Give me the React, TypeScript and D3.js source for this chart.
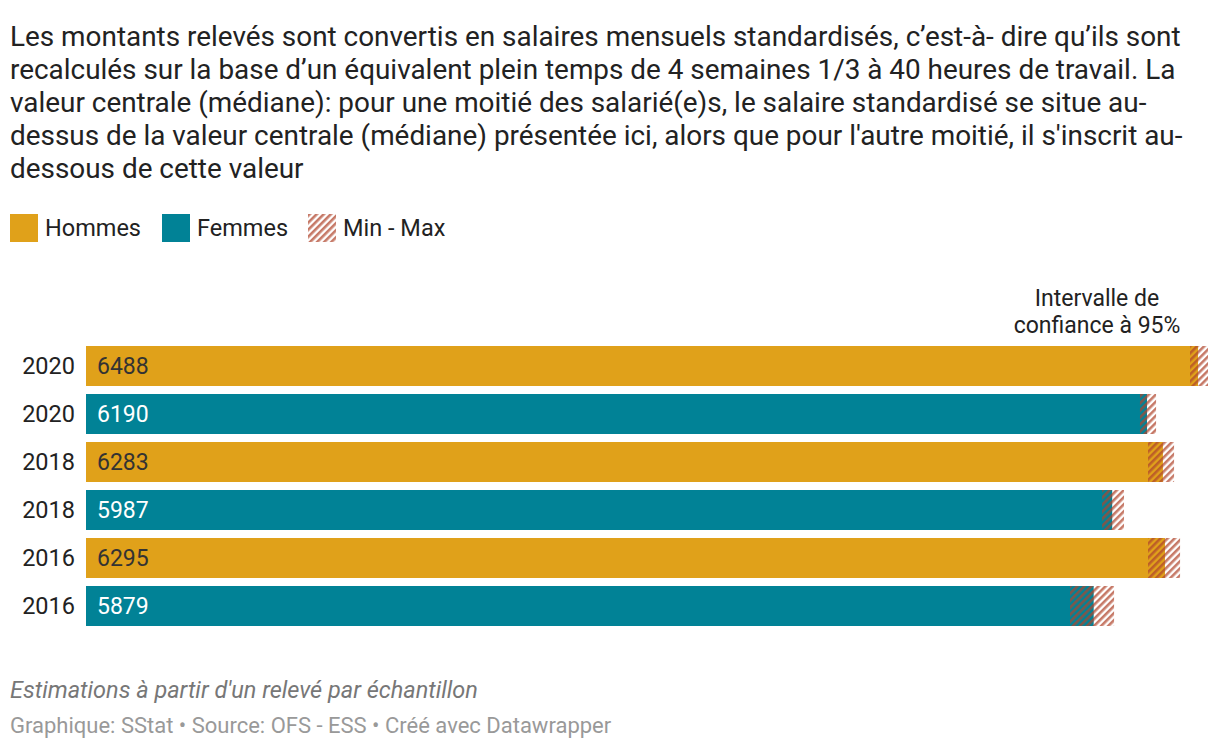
import React from "react";
import * as d3 from "d3";

const years = ["2020", "2020", "2018", "2018", "2016", "2016"];
const genders = ["Hommes", "Femmes", "Hommes", "Femmes", "Hommes", "Femmes"];
const medians = [6488, 6190, 6283, 5987, 6295, 5879];
const ciLow = [6441, 6149, 6196, 5928, 6196, 5741];
const ciHigh = [6546, 6243, 6348, 6056, 6383, 5998];

const titleLines = [
  "Les montants relevés sont convertis en salaires mensuels standardisés, c’est-à- dire qu’ils sont",
  "recalculés sur la base d’un équivalent plein temps de 4 semaines 1/3 à 40 heures de travail. La",
  "valeur centrale (médiane): pour une moitié des salarié(e)s, le salaire standardisé se situe au-",
  "dessus de la valeur centrale (médiane) présentée ici, alors que pour l'autre moitié, il s'inscrit au-",
  "dessous de cette valeur",
];

const legendItems = ["Hommes", "Femmes", "Min - Max"];
const colors: Record<string, string> = { Hommes: "#e0a11a", Femmes: "#018296" };

export default function App() {
  const W = 1220;
  const H = 750;
  const x = d3.scaleLinear().domain([0, d3.max(ciHigh) as number]).range([86, 1208]);
  const y = d3
    .scaleBand<number>()
    .domain(d3.range(medians.length))
    .range([346, 346 + 48 * medians.length - 8])
    .paddingInner(8 / 48)
    .paddingOuter(0);
  const bh = y.bandwidth();
  const font = "Roboto, 'Noto Sans', sans-serif";
  const legendX = [10, 162, 308];

  return (
    <svg
      width={W}
      height={H}
      style={{ position: "absolute", left: 0, top: 0, background: "#fff" }}
      fontFamily={font}
    >
      <defs>
        <pattern
          id="hatch"
          patternUnits="userSpaceOnUse"
          width={5}
          height={5}
          patternTransform="rotate(45)"
        >
          <rect x={0} y={0} width={2.6} height={5} fill="rgb(176,70,45)" fillOpacity={0.72} />
        </pattern>
      </defs>
      <rect width={W} height={H} fill="#fff" />
      {titleLines.map((t, i) => (
        <text key={i} x={10} y={46 + i * 33} fontSize={27.9} fill="#222">
          {t}
        </text>
      ))}
      {legendItems.map((l, i) => (
        <g key={l} transform={`translate(${legendX[i]},214)`}>
          <rect
            width={28}
            height={28}
            fill={l === "Min - Max" ? "url(#hatch)" : colors[l]}
          />
          <text x={35} y={22} fontSize={23.5} fill="#222">
            {l}
          </text>
        </g>
      ))}
      <text textAnchor="middle" fontSize={23} fill="#222">
        <tspan x={1097} y={306}>Intervalle de</tspan>
        <tspan x={1097} y={333}>confiance à 95%</tspan>
      </text>
      {medians.map((m, i) => {
        const yy = y(i) as number;
        const g = genders[i];
        return (
          <g key={i}>
            <text x={75} y={yy + bh / 2 + 7.5} textAnchor="end" fontSize={23.5} fill="#222">
              {years[i]}
            </text>
            <rect x={x(0)} y={yy} width={x(m) - x(0)} height={bh} fill={colors[g]} />
            <rect
              x={x(ciLow[i])}
              y={yy}
              width={x(ciHigh[i]) - x(ciLow[i])}
              height={bh}
              fill="url(#hatch)"
            />
            <text
              x={97}
              y={yy + bh / 2 + 7.5}
              fontSize={23}
              fill={g === "Hommes" ? "#333" : "#fff"}
            >
              {d3.format("d")(m)}
            </text>
          </g>
        );
      })}
      <text x={10} y={698} fontSize={23.5} fontStyle="italic" fill="#777">
        Estimations à partir d'un relevé par échantillon
      </text>
      <text x={10} y={733} fontSize={22} fill="#999">
        Graphique: SStat • Source: OFS - ESS • Créé avec Datawrapper
      </text>
    </svg>
  );
}
